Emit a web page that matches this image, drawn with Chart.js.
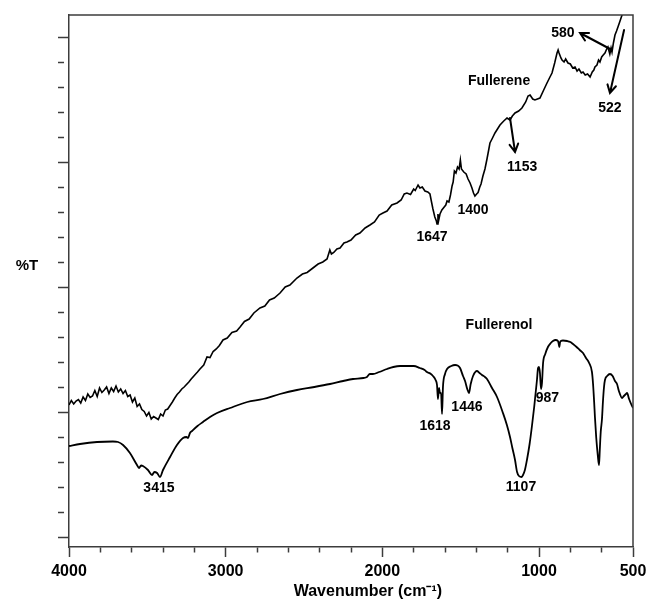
<!DOCTYPE html>
<html>
<head>
<meta charset="utf-8">
<script src="https://cdn.jsdelivr.net/npm/chart.js@4"></script>
<style>
  html, body { margin: 0; padding: 0; background: #fff; }
  #wrap { width: 646px; height: 599px; }
</style>
</head>
<body>
<div id="wrap"><canvas id="ftirChart"></canvas></div>
<script>
// Fullerene spectrum (upper trace)
const fullereneWave = [
  4000, 3985, 3970, 3955, 3940, 3925, 3910, 3895, 3880, 3865, 3850, 3835, 3820, 3805, 3790, 3775,
  3760, 3745, 3730, 3715, 3700, 3685, 3670, 3655, 3640, 3625, 3610, 3595, 3580, 3565, 3550, 3535,
  3520, 3505, 3490, 3475, 3460, 3445, 3430, 3415, 3400, 3385, 3370, 3355, 3340, 3325, 3310, 3295,
  3280, 3265, 3250, 3235, 3220, 3200, 3180, 3164, 3140, 3119, 3100, 3080, 3060, 3040, 3017, 2990,
  2960, 2930, 2908, 2880, 2850, 2820, 2781, 2750, 2720, 2690, 2653, 2620, 2590, 2545, 2510, 2480,
  2443, 2410, 2380, 2353, 2335, 2325, 2310, 2290, 2270, 2245, 2226, 2200, 2170, 2143, 2110, 2079,
  2050, 2020, 1996, 1970, 1940, 1906, 1880, 1860, 1843, 1820, 1800, 1790, 1772, 1760, 1745, 1728,
  1710, 1696, 1686, 1677, 1665, 1655, 1651, 1645, 1640, 1632, 1620, 1605, 1595, 1587, 1575, 1565,
  1555, 1548, 1540, 1530, 1520, 1510, 1502, 1495, 1480, 1465, 1453, 1440, 1428, 1418, 1409, 1398,
  1389, 1378, 1370, 1358, 1345, 1332, 1320, 1313, 1300, 1281, 1265, 1249, 1225, 1204, 1185, 1170,
  1153, 1130, 1109, 1085, 1070, 1057, 1040, 1026, 1010, 994, 970, 949, 930, 917, 900, 885,
  878, 872, 860, 853, 840, 830, 815, 800, 785, 770, 757, 745, 730, 719, 705, 690,
  674, 660, 650, 643, 630, 620, 611, 600, 590, 579, 568, 560, 548, 540, 534, 525,
  515, 505, 496, 485, 470, 455, 438
];
const fullereneT = [
  26.4, 27.3, 26.6, 27.2, 27.5, 26.8, 28.0, 27.3, 28.6, 27.9, 28.2, 29.3, 28.1, 29.8, 28.9, 29.4,
  30.0, 28.7, 29.8, 29.1, 30.2, 29.0, 29.6, 28.7, 29.3, 28.1, 28.4, 27.0, 27.8, 26.1, 26.6, 25.5,
  25.1, 24.2, 24.9, 23.6, 24.1, 23.8, 23.5, 24.6, 24.2, 25.4, 25.6, 26.3, 27.0, 27.8, 28.5, 29.0,
  29.6, 30.0, 30.5, 31.0, 31.6, 32.3, 33.0, 33.6, 34.4, 36.0, 35.9, 37.1, 37.6, 38.3, 39.4, 39.8,
  40.9, 41.2, 42.0, 43.1, 43.6, 44.8, 45.8, 46.2, 47.4, 47.8, 48.8, 50.0, 50.4, 51.8, 52.6, 52.9,
  53.8, 54.6, 55.0, 55.6, 57.4, 56.6, 56.9, 57.6, 57.8, 58.8, 59.0, 59.4, 60.4, 60.8, 61.8, 62.4,
  63.0, 64.4, 64.8, 65.2, 66.4, 66.8, 67.4, 68.6, 68.8, 68.5, 69.6, 69.3, 70.4, 69.8, 70.0, 69.2,
  69.0, 68.6, 67.0, 65.6, 64.0, 63.2, 62.6, 64.6, 63.4, 64.6, 65.4, 66.0, 66.4, 67.2, 67.0, 68.4,
  70.2, 71.0, 73.2, 72.8, 74.0, 73.6, 75.4, 73.6, 73.0, 72.6, 71.6, 70.8, 69.8, 68.8, 68.2, 68.6,
  68.9, 70.0, 70.6, 72.2, 73.6, 75.6, 77.6, 78.8, 79.6, 80.8, 81.6, 82.4, 83.2, 83.8, 83.4, 84.2,
  84.8, 85.2, 85.8, 87.0, 88.2, 88.4, 87.6, 87.4, 87.6, 87.8, 89.4, 90.8, 92.0, 92.8, 94.8, 96.8,
  97.4, 96.8, 95.8, 95.4, 95.0, 95.6, 94.8, 94.6, 93.8, 94.0, 93.2, 93.6, 92.8, 93.0, 92.4, 92.6,
  92.0, 93.0, 93.4, 94.0, 94.4, 95.4, 95.0, 96.0, 96.4, 96.8, 97.6, 98.0, 96.6, 97.8, 97.0, 98.8,
  100.4, 101.2, 102.0, 103.0, 104.4, 106.0, 107.0
];

// Fullerenol spectrum (lower trace)
const fullerenolWave = [
  4000, 3930, 3821, 3720, 3687, 3655, 3611, 3566, 3553, 3540, 3528, 3496, 3470, 3455, 3438, 3419,
  3400, 3355, 3311, 3272, 3250, 3240, 3228, 3215, 3180, 3145, 3100, 3055, 2972, 2862, 2762, 2653,
  2545, 2434, 2334, 2250, 2187, 2120, 2098, 2080, 2060, 2020, 1970, 1930, 1887, 1843, 1800, 1760,
  1730, 1715, 1690, 1677, 1660, 1651, 1645, 1638, 1632, 1625, 1619, 1613, 1600, 1587, 1560, 1536,
  1520, 1504, 1485, 1472, 1458, 1447, 1436, 1421, 1396, 1380, 1364, 1345, 1332, 1300, 1268, 1230,
  1205, 1185, 1170, 1153, 1140, 1128, 1110, 1102, 1090, 1077, 1060, 1045, 1030, 1013, 1006, 1000,
  994, 987, 981, 974, 960, 943, 925, 911, 895, 879, 874, 870, 866, 860, 847, 820,
  800, 783, 760, 740, 719, 700, 680, 662, 655, 648, 643, 635, 625, 617, 612, 606,
  598, 592, 585, 579, 565, 547, 530, 515, 502, 490, 470, 458, 445, 438, 425, 412, 400
];
const fullerenolT = [
  18.2, 18.6, 19.0, 19.1, 19.0, 18.4, 16.8, 14.4, 13.8, 14.3, 14.2, 13.4, 12.4, 13.0, 12.8, 12.0,
  13.4, 16.0, 18.4, 19.8, 20.0, 19.8, 20.8, 21.2, 22.2, 23.0, 24.0, 24.8, 25.8, 27.0, 27.6, 28.6,
  29.4, 30.0, 30.6, 31.2, 31.6, 31.8, 32.0, 32.6, 32.6, 33.0, 33.6, 34.0, 34.2, 34.2, 34.2, 33.8,
  33.4, 33.0, 32.6, 32.2, 31.4, 30.4, 27.6, 29.8, 28.8, 28.8, 24.6, 30.0, 32.6, 33.6, 34.2, 34.4,
  34.3, 33.8, 32.2, 31.2, 29.6, 28.8, 30.6, 32.2, 33.2, 32.8, 32.4, 32.0, 31.6, 29.8, 28.0, 24.8,
  22.4, 20.0, 17.8, 15.4, 13.0, 12.2, 12.0, 12.4, 13.4, 15.4, 18.6, 22.2, 26.2, 31.4, 33.8, 34.0,
  32.8, 29.6, 30.8, 34.8, 36.6, 38.0, 38.8, 39.2, 39.4, 39.2, 38.6, 38.0, 38.9, 39.2, 39.3, 39.2,
  39.0, 38.6, 38.0, 37.4, 36.8, 35.8, 34.8, 33.0, 30.6, 27.0, 24.0, 20.0, 16.4, 14.4, 17.4, 21.0,
  23.6, 27.0, 30.0, 31.4, 32.2, 32.6, 32.2, 31.2, 30.6, 29.2, 27.8, 28.2, 28.6, 28.8, 27.6, 26.6, 25.8
];

// Axis ticks
const xTickValues = [4000, 3000, 2000, 1000, 400];
const xTickLabels = ["4000", "3000", "2000", "1000", "500"];

// Peak and series labels (wavenumber, value)
const noteText = ["Fullerene", "Fullerenol", "580", "522", "1153", "1400", "1647", "1618", "1446", "987", "1107", "3415"];
const noteWave = [1255, 1255, 847, 547, 1108, 1421, 1683, 1664, 1460, 946, 1115, 3426];
const noteT = [91.2, 42.4, 100.8, 85.8, 74, 65.4, 60, 22.2, 26, 27.8, 10, 9.8];

// Arrows: from (wave, value) to (wave, value), head at the end
const arrowFrom = [[534, 97.4], [457, 101.4], [1185, 83.8]];
const arrowTo = [[738, 100.8], [547, 88.8], [1153, 77]];

const axisColor = "#3c3c3c";
const boldFont = "'Liberation Sans', Arial, sans-serif";

function toPoints(w, t) {
  return w.map((v, i) => ({ x: v, y: t[i] }));
}

const decorations = {
  id: "decorations",
  afterDraw(chart) {
    const { ctx, chartArea: a, scales: { x, y } } = chart;
    ctx.save();
    // top and right frame
    ctx.strokeStyle = axisColor;
    ctx.lineWidth = 1.5;
    ctx.beginPath();
    ctx.moveTo(a.left, a.top);
    ctx.lineTo(a.right, a.top);
    ctx.lineTo(a.right, a.bottom);
    ctx.stroke();

    // text notes
    ctx.fillStyle = "#000";
    ctx.textAlign = "center";
    ctx.textBaseline = "middle";
    ctx.font = "bold 14px " + boldFont;
    noteText.forEach((t, i) => {
      ctx.fillText(t, x.getPixelForValue(noteWave[i]), y.getPixelForValue(noteT[i]));
    });

    // arrows
    ctx.strokeStyle = "#000";
    ctx.lineWidth = 2;
    ctx.lineCap = "round";
    arrowFrom.forEach((f, i) => {
      const x1 = x.getPixelForValue(f[0]), y1 = y.getPixelForValue(f[1]);
      const x2 = x.getPixelForValue(arrowTo[i][0]), y2 = y.getPixelForValue(arrowTo[i][1]);
      const ang = Math.atan2(y2 - y1, x2 - x1);
      ctx.beginPath();
      ctx.moveTo(x1, y1);
      ctx.lineTo(x2, y2);
      ctx.moveTo(x2 - 9 * Math.cos(ang - 0.5), y2 - 9 * Math.sin(ang - 0.5));
      ctx.lineTo(x2, y2);
      ctx.lineTo(x2 - 9 * Math.cos(ang + 0.5), y2 - 9 * Math.sin(ang + 0.5));
      ctx.stroke();
    });

    // axis names
    ctx.font = "bold 15px " + boldFont;
    ctx.fillText("%T", a.left - 42, y.getPixelForValue(54.2));
    ctx.font = "bold 16px " + boldFont;
    ctx.fillText("Wavenumber (cm\u207B\u00B9)", a.left + 0.53 * (a.right - a.left), a.bottom + 45);
    ctx.restore();
  }
};

new Chart(document.getElementById("ftirChart"), {
  type: "line",
  data: {
    datasets: [
      {
        label: "Fullerene",
        data: toPoints(fullereneWave, fullereneT),
        borderColor: "#000",
        borderWidth: 1.6,
        pointRadius: 0,
        tension: 0,
      },
      {
        label: "Fullerenol",
        data: toPoints(fullerenolWave, fullerenolT),
        borderColor: "#000",
        borderWidth: 1.8,
        pointRadius: 0,
        cubicInterpolationMode: "monotone",
      },
    ],
  },
  options: {
    responsive: true,
    maintainAspectRatio: false,
    animation: false,
    layout: { padding: { top: 15, right: 13, left: 0, bottom: 0 } },
    plugins: { legend: { display: false }, tooltip: { enabled: false } },
    scales: {
      x: {
        type: "linear",
        reverse: true,
        min: 400,
        max: 4000,
        afterFit: (s) => {
          s.height = 52;
          s.paddingLeft = 0;
          s.paddingRight = 0;
        },
        border: { color: axisColor, width: 1.5 },
        grid: {
          drawOnChartArea: false,
          tickLength: 10,
          tickWidth: 1.5,
          tickColor: axisColor,
          tickBorderDash: (c) => (xTickValues.includes(c.tick.value) ? [] : [5, 30]),
        },
        ticks: {
          stepSize: 200,
          autoSkip: false,
          maxRotation: 0,
          includeBounds: false,
          padding: 5,
          color: "#000",
          font: { family: boldFont, size: 16, weight: "bold" },
          callback: (v) => {
            const i = xTickValues.indexOf(v);
            return i >= 0 ? xTickLabels[i] : "";
          },
        },
      },
      y: {
        min: -2,
        max: 104.4,
        afterFit: (s) => { s.width = 69; },
        border: { color: axisColor, width: 1.5 },
        grid: {
          drawOnChartArea: false,
          tickLength: 11,
          tickWidth: 1.5,
          tickColor: (c) => (c.tick && c.tick.value % 5 === 0 ? axisColor : "rgba(0,0,0,0)"),
          tickBorderDash: (c) => (c.tick && c.tick.value % 25 === 0 ? [] : [6, 30]),
        },
        ticks: { display: false, stepSize: 5, autoSkip: false, includeBounds: false },
      },
    },
  },
  plugins: [decorations],
});
</script>
</body>
</html>
